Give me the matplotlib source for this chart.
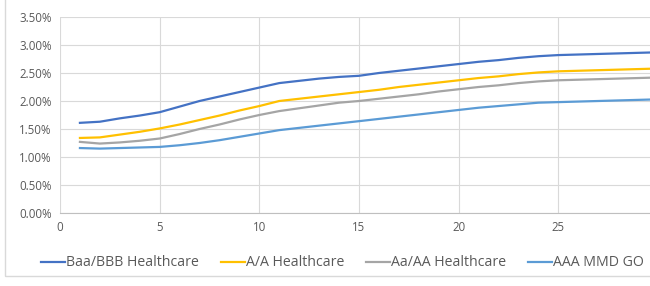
import numpy as np
import matplotlib.pyplot as plt
from matplotlib.patches import Rectangle
from matplotlib.ticker import FuncFormatter

# Data (yield %, by maturity in years)
years = list(range(1, 31))
baa_bbb = [1.61, 1.63, 1.69, 1.74, 1.80, 1.90, 2.00, 2.08, 2.16, 2.24,
           2.32, 2.36, 2.40, 2.43, 2.45, 2.50, 2.54, 2.58, 2.62, 2.66,
           2.70, 2.73, 2.77, 2.80, 2.82, 2.83, 2.84, 2.85, 2.86, 2.87]
a_a = [1.34, 1.35, 1.40, 1.45, 1.51, 1.58, 1.66, 1.74, 1.83, 1.91,
       2.00, 2.04, 2.08, 2.12, 2.16, 2.20, 2.25, 2.29, 2.33, 2.37,
       2.41, 2.44, 2.48, 2.51, 2.53, 2.54, 2.55, 2.56, 2.57, 2.58]
aa_aa = [1.27, 1.24, 1.26, 1.29, 1.33, 1.41, 1.50, 1.58, 1.67, 1.75,
         1.82, 1.87, 1.92, 1.97, 2.00, 2.04, 2.08, 2.12, 2.17, 2.21,
         2.25, 2.28, 2.32, 2.35, 2.37, 2.38, 2.39, 2.40, 2.41, 2.42]
aaa_mmd = [1.16, 1.15, 1.16, 1.17, 1.18, 1.21, 1.25, 1.30, 1.36, 1.42,
           1.48, 1.52, 1.56, 1.60, 1.64, 1.68, 1.72, 1.76, 1.80, 1.84,
           1.88, 1.91, 1.94, 1.97, 1.98, 1.99, 2.00, 2.01, 2.02, 2.03]

series = [
    ('Baa/BBB Healthcare', baa_bbb, '#4472C4'),
    ('A/A Healthcare', a_a, '#FFC000'),
    ('Aa/AA Healthcare', aa_aa, '#A5A5A5'),
    ('AAA MMD GO', aaa_mmd, '#5B9BD5'),
]

plt.rcParams['font.family'] = ['Open Sans', 'DejaVu Sans']

fig = plt.figure(figsize=(6.5, 2.86), dpi=100)
ax = fig.add_axes([60 / 650, 1 - 213 / 286, 598 / 650, 196 / 286])

for name, vals, color in series:
    ax.plot(years, vals, color=color, lw=1.6, label=name)

ax.set_xlim(0, 30)
ax.set_ylim(0, 3.5)
ax.set_xticks([0, 5, 10, 15, 20, 25])
ax.set_yticks(np.arange(0, 3.51, 0.5))
ax.yaxis.set_major_formatter(FuncFormatter(lambda v, p: f'{v:.2f}%'))
ax.grid(True, color='#D9D9D9', lw=0.8)
ax.set_axisbelow(True)
for s in ['top', 'right', 'left']:
    ax.spines[s].set_visible(False)
ax.spines['bottom'].set_color('#BFBFBF')
ax.tick_params(length=0, labelsize=8.3, colors='#595959', pad=6)

leg = fig.legend(loc='center', bbox_to_anchor=(0.527, 1 - 263 / 286), ncol=4,
                 frameon=False, fontsize=10.2, handlelength=1.7,
                 handletextpad=0.05, columnspacing=1.55)
for t in leg.get_texts():
    t.set_color('#595959')

# outer chart border
fig.patches.append(Rectangle((5 / 650, 1 - 276 / 286), 700 / 650, 300 / 286,
                             transform=fig.transFigure, fill=False,
                             edgecolor='#D9D9D9', lw=1))

fig.savefig('out.png', dpi=100)
